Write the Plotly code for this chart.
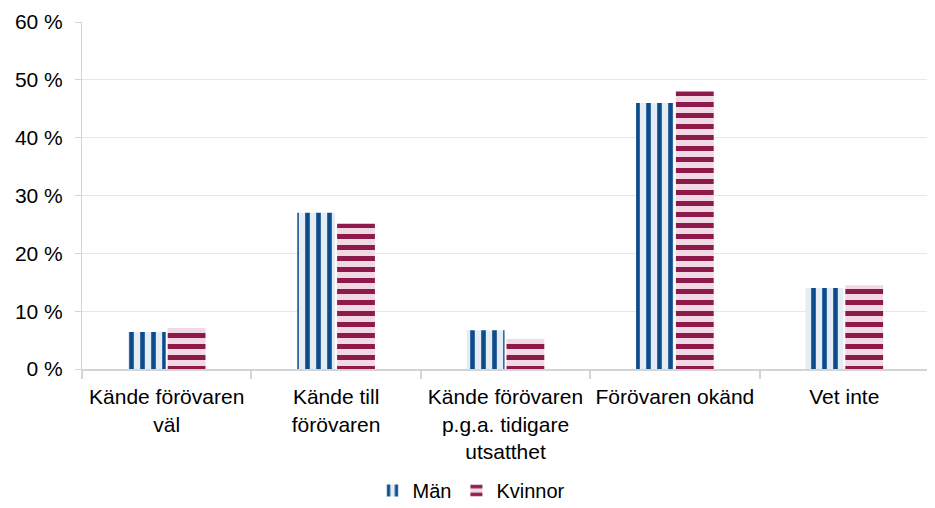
import plotly.graph_objects as go

categories = ["Kände förövaren<br>väl", "Kände till<br>förövaren", "Kände förövaren<br>p.g.a. tidigare<br>utsatthet",
              "Förövaren okänd", "Vet inte"]
man = [6.4, 27.0, 6.7, 46.0, 14.0]
kvinnor = [7.1, 25.1, 5.2, 48.0, 14.5]
series_names = ["Män", "Kvinnor"]
y_ticks = [0, 10, 20, 30, 40, 50, 60]
y_ticklabels = [f"{v} %" for v in y_ticks]

fig = go.Figure()
fig.add_trace(go.Bar(
    x=categories, y=man, name=series_names[0],
    marker=dict(color="#e6ecf4", line=dict(width=0),
                pattern=dict(shape="|", fgcolor="#0b4c8c", bgcolor="#e6ecf4",
                             size=11, solidity=0.42, fillmode="replace")),
))
fig.add_trace(go.Bar(
    x=categories, y=kvinnor, name=series_names[1],
    marker=dict(color="#f1d9e3", line=dict(width=0),
                pattern=dict(shape="-", fgcolor="#8e1a4b", bgcolor="#f1d9e3",
                             size=11, solidity=0.45, fillmode="replace")),
))

font = "Liberation Sans, Arial, sans-serif"
fig.update_layout(
    width=927, height=500,
    margin=dict(l=74, r=6, t=14, b=139, autoexpand=False),
    paper_bgcolor="white", plot_bgcolor="white",
    font=dict(family=font, size=21, color="#000000"),
    barmode="group", bargap=0.53, bargroupgap=0.05,
    showlegend=True,
    legend=dict(orientation="h", x=0.5, xanchor="center", xref="container",
                y=0.035, yanchor="middle", yref="container",
                font=dict(size=20), itemwidth=30, traceorder="normal",
                tracegroupgap=0),
    xaxis=dict(showline=True, linecolor="#d4d4d4", linewidth=2,
               ticks="outside", tickson="boundaries", ticklen=8, tickcolor="#d4d4d4",
               tickwidth=2, showgrid=False, tickfont=dict(size=21), automargin=False,
               ticklabelstandoff=8),
    yaxis=dict(range=[0, 60], tickvals=y_ticks, ticktext=y_ticklabels,
               showline=True, linecolor="#d4d4d4", linewidth=1,
               ticks="outside", ticklen=6, tickcolor="#d4d4d4",
               gridcolor="#e8e8e8", gridwidth=1, zeroline=False,
               tickfont=dict(size=21), automargin=False, ticklabelstandoff=8),
)

fig.write_html("out.html")
